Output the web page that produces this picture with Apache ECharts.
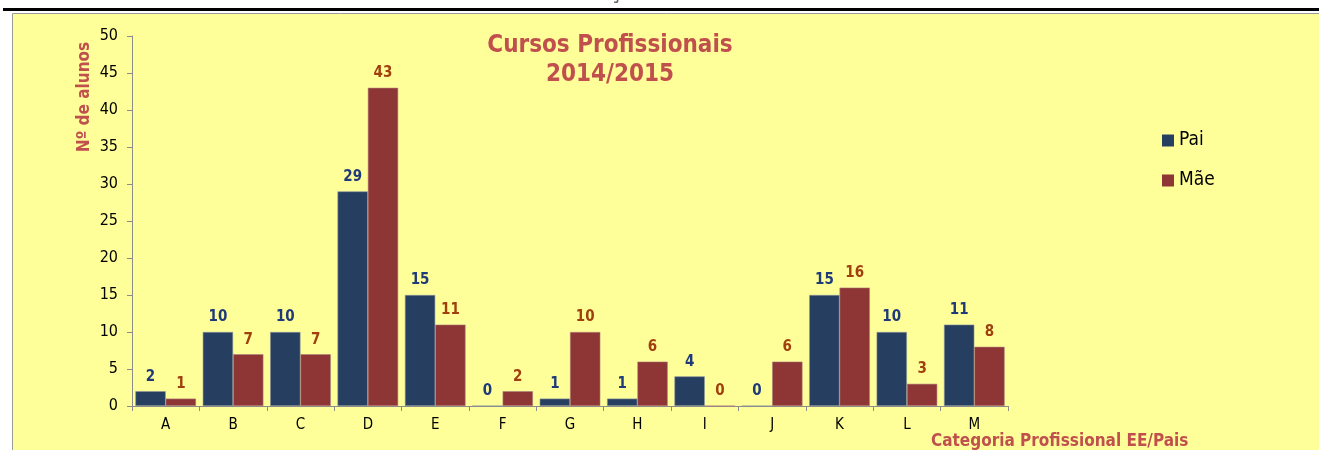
<!DOCTYPE html>
<html>
<head>
<meta charset="utf-8">
<script src="https://cdn.jsdelivr.net/npm/echarts@6/dist/echarts.min.js"></script>
<style>
html,body{margin:0;padding:0;background:#fff;}
#c{width:1319px;height:450px;}
</style>
</head>
<body>
<div id="c"></div>
<script>
const categories = ['A','B','C','D','E','F','G','H','I','J','K','L','M'];
const paiValues = [2,10,10,29,15,0,1,1,4,0,15,10,11];
const maeValues = [1,7,7,43,11,2,10,6,0,6,16,3,8];
const seriesNames = ['Pai','Mãe'];
const yTicks = [0,5,10,15,20,25,30,35,40,45,50];

const FONT = '"DejaVu Sans Condensed", "DejaVu Sans", sans-serif';
const chart = echarts.init(document.getElementById('c'), null, {renderer:'canvas'});
chart.setOption({
  backgroundColor: '#ffffff',
  animation: false,
  textStyle: {fontFamily: FONT},
  title: {
    text: 'Cursos Profissionais\n2014/2015',
    left: 605, top: 26, textAlign: 'center',
    textStyle: {color:'#C0504D', fontSize: 24, fontWeight:'bold', lineHeight: 29, fontFamily: FONT}
  },
  legend: {
    orient: 'vertical',
    left: 1162, top: 131, padding: 0,
    itemWidth: 12, itemHeight: 12, itemGap: 21,
    icon: 'rect',
    itemStyle: {borderWidth: 0},
    textStyle: {fontSize: 19, color:'#000', fontFamily: FONT},
    data: seriesNames
  },
  grid: {left: 132, right: 311, top: 36, bottom: 44, containLabel: false},
  xAxis: {
    type: 'category',
    data: categories,
    axisLine: {lineStyle:{color:'#8c8c8c', width:1}},
    axisTick: {show:true, length:5, lineStyle:{color:'#8c8c8c'}},
    axisLabel: {color:'#000', fontSize: 15, margin: 12, fontFamily: FONT}
  },
  yAxis: {
    type: 'value',
    min: 0, max: 50, interval: 5,
    splitLine: {show:false},
    axisLine: {show:true, lineStyle:{color:'#8c8c8c', width:1}},
    axisTick: {show:true, length:5, lineStyle:{color:'#8c8c8c'}},
    axisLabel: {color:'#000', fontSize: 16, margin: 14, fontFamily: FONT,
      formatter: v => yTicks.includes(v) ? String(v) : ''}
  },
  graphic: [
    {type:'rect', z:-10, shape:{x:12.5, y:13.5, width:1320, height:450}, style:{fill:'#FFFF99', stroke:'#9a9a9a', lineWidth:1}},
    {type:'rect', z:-10, shape:{x:3, y:8, width:1316, height:3}, style:{fill:'#000'}},
    {type:'text', z:-9, style:{text:'Caracterização do Contexto Educativo', x:695, y:4, textAlign:'center', textVerticalAlign:'bottom', fill:'#666', font:'bold 22px "DejaVu Sans Condensed", "DejaVu Sans", sans-serif'}},
    {type:'text', x:85, y:97, rotation: Math.PI/2, style:{text:'Nº de alunos', x:0, y:0, textAlign:'center', textVerticalAlign:'middle', fill:'#C0504D', font:'bold 17px "DejaVu Sans Condensed", "DejaVu Sans", sans-serif'}},
    {type:'text', style:{text:'Categoria Profissional EE/Pais', x:931, y:442, textAlign:'left', textVerticalAlign:'middle', fill:'#C0504D', font:'bold 17px "DejaVu Sans Condensed", "DejaVu Sans", sans-serif'}}
  ],
  series: [
    {
      name: seriesNames[0], type: 'bar', data: paiValues,
      barGap: '0%', barCategoryGap: '10%',
      itemStyle: {color:'#263F60', borderColor:'#8a94a0', borderWidth:0.6},
      label: {show:true, position:'top', distance:7, color:'#1F3A78', fontSize:15, fontWeight:'bold', fontFamily: FONT}
    },
    {
      name: seriesNames[1], type: 'bar', data: maeValues,
      barGap: '0%', barCategoryGap: '10%',
      itemStyle: {color:'#8E3535', borderColor:'#b08080', borderWidth:0.6},
      label: {show:true, position:'top', distance:7, color:'#A0400F', fontSize:15, fontWeight:'bold', fontFamily: FONT}
    }
  ]
});
</script>
</body>
</html>
